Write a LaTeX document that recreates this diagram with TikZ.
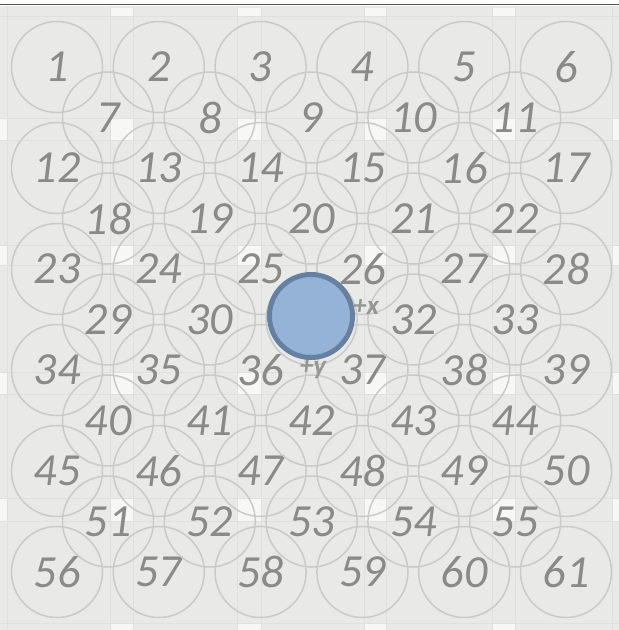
\documentclass[tikz,border=0pt]{standalone}
\usepackage{fontspec}
\setmainfont{Carlito}
\definecolor{bgc}{RGB}{233,233,231}
\definecolor{gridc}{RGB}{224,224,222}
\definecolor{patchc}{RGB}{247,247,246}
\definecolor{ringc}{RGB}{202,202,200}
\definecolor{labc}{RGB}{138,138,136}
\definecolor{axc}{RGB}{150,150,148}
\definecolor{topc}{RGB}{85,85,85}
\definecolor{bluef}{RGB}{149,179,215}
\definecolor{blued}{RGB}{102,128,162}
\tikzset{
  ring/.style={circle, draw=ringc, line width=1.5pt, minimum size=91pt, inner sep=0pt,
    text=labc, font=\fontsize{46}{46}\selectfont\itshape},
  axlabel/.style={text=axc, font=\fontsize{27}{27}\selectfont\bfseries\itshape, inner sep=0pt},
  ball/.style={circle, fill=bluef, draw=blued, line width=5pt, minimum size=83pt, inner sep=0pt},
  gridline/.style={draw=gridc, line width=1pt},
  patch/.style={fill=patchc}
}
\begin{document}
\begin{tikzpicture}[x=1pt,y=-1pt]
\useasboundingbox (0,0) rectangle (619,630);
\fill[white] (0,0) rectangle (619,630);
\fill[bgc] (0,6) rectangle (619,630);
% tile patches
\foreach \xa/\xb in {110/133,237/261,364/386,492/515}{
  \foreach \ya/\yb in {118/140,245/265,372/394,498/521}{
    \fill[patch] (\xa,\ya) rectangle (\xb,\yb);
  }
  \fill[patch] (\xa,8) rectangle (\xb,16);
  \fill[patch] (\xa,623) rectangle (\xb,630);
}
\foreach \ya/\yb in {118/140,245/265,372/394,498/521}{
  \fill[patch] (0,\ya) rectangle (7,\yb);
  \fill[patch] (612,\ya) rectangle (619,\yb);
}
% tile grid lines
\foreach \gx in {7,110,133,237,261,364,386,492,515,612}{
  \draw[gridline] (\gx,6) -- (\gx,630);
}
\foreach \gy in {16,118,140,245,265,372,394,498,521,623}{
  \draw[gridline] (0,\gy) -- (619,\gy);
}
\draw[topc, line width=1.5pt] (0,4.5) -- (619,4.5);
% big circles
\foreach \j in {0,...,5}{
  \foreach \i in {0,...,5}{
    \pgfmathtruncatemacro{\n}{11*\j+\i+1}
    \node[ring] (c\n) at ({57+101.8*\i},{67+101*\j}) {\n};
  }
}
% small circles
\foreach \j in {0,...,4}{
  \foreach \i in {0,...,4}{
    \pgfmathtruncatemacro{\n}{11*\j+\i+7}
    \ifnum\n=31
      \node[ring] (c\n) at ({108+101.8*\i},{117.5+101*\j}) {};
    \else
      \node[ring] (c\n) at ({108+101.8*\i},{117.5+101*\j}) {\n};
    \fi
  }
}
% axis labels and ball
\node[axlabel] (px) at (366,307) {+x};
\node[axlabel] (py) at (313,369) {+y};
\node[ball] (robot) at (311,316) {};
\end{tikzpicture}
\end{document}
